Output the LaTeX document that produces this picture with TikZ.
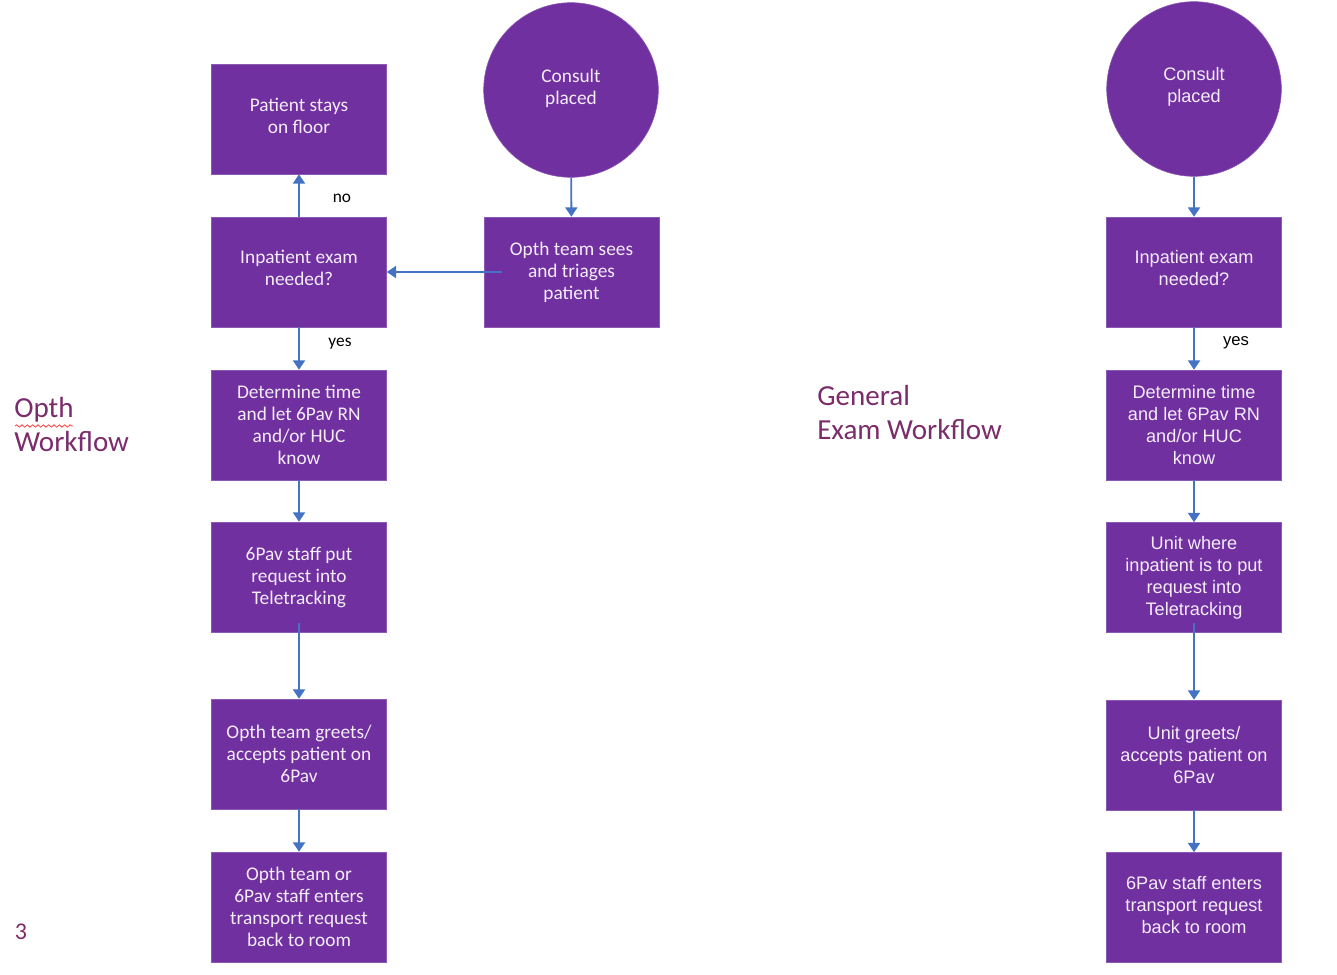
\documentclass[tikz,border=0pt]{standalone}
\usepackage{fontspec}
\setmainfont{Carlito}
\newfontfamily\calfont{Carlito}
\newfontfamily\arifont{Liberation Sans}
\usetikzlibrary{arrows.meta,decorations.pathmorphing}
\definecolor{boxpurple}{HTML}{7030A0}
\definecolor{arrowblue}{HTML}{4472C4}
\definecolor{titlepurple}{HTML}{7B2C6B}
\definecolor{boxtext}{HTML}{F4ECF8}
\tikzset{
  box/.style={rectangle, fill=boxpurple, draw=boxpurple!80!white, line width=0.4pt, minimum width=131.25pt, minimum height=82.5pt, inner sep=0pt, align=center, text=boxtext},
  lbox/.style={box, font=\calfont\fontsize{14.5}{16.5}\selectfont},
  rbox/.style={box, font=\arifont\fontsize{13.6}{16.5}\selectfont},
  circ/.style={circle, fill=boxpurple, draw=boxpurple!80!white, line width=0.4pt, minimum size=131pt, inner sep=0pt, align=center, text=boxtext},
  conn/.style={draw=arrowblue, line width=1.4pt, -{Triangle[width=9pt,length=7pt]}},
  lab/.style={text=black, inner sep=0pt},
  title/.style={text=titlepurple, align=left, anchor=north west, inner sep=0pt, font=\calfont\fontsize{21.8}{25.8}\selectfont}
}
\begin{document}
\begin{tikzpicture}[x=0.75pt,y=-0.75pt]
\useasboundingbox (0,0) rectangle (1337,974);
% Left workflow
\node[lbox] (stay) at (299,119) {Patient stays\\on floor\\[-11pt]};
\node[lbox] (inp) at (299,272) {Inpatient exam\\needed?\\[-10pt]};
\node[lbox] (det) at (299,425) {Determine time\\and let 6Pav RN\\and/or HUC\\know};
\node[lbox] (put) at (299,577) {6Pav staff put\\request into\\Teletracking};
\node[lbox] (greet) at (299,754) {Opth team greets/\\accepts patient on\\6Pav};
\node[lbox] (trans) at (299,907) {Opth team or\\6Pav staff enters\\transport request\\back to room};
\node[circ, font=\calfont\fontsize{14.5}{16.5}\selectfont] (cons) at (571,90) {Consult\\placed\\[-12pt]};
\node[lbox] (tri) at (571.5,272) {Opth team sees\\and triages\\patient};
\draw[conn] (cons) -- (tri);
\draw[conn] ([xshift=14pt]tri.west) -- (inp.east);
\draw[conn] (inp) -- (stay);
\draw[conn] (inp) -- (det);
\draw[conn] (det) -- (put);
\draw[conn] ([yshift=7pt]put.south) -- (greet.north);
\draw[conn] (greet) -- (trans);
\node[lab, font=\calfont\fontsize{13}{15}\selectfont] (no) at (342,198) {no};
\node[lab, font=\calfont\fontsize{13}{15}\selectfont] (yes1) at (340,344) {yes};
% Titles
\node[title] (t1) at (14,397) {Opth\\Workflow};
\draw[red!75!white, line width=0.6pt, decorate, decoration={snake, amplitude=0.9pt, segment length=4pt}] (15,426) -- (73,426);
\node[title] (t2) at (817,385) {General\\Exam Workflow};
\node[text=titlepurple, inner sep=0pt, font=\calfont\fontsize{18}{20}\selectfont] (num) at (21,932) {3};
% Right workflow
\node[circ, font=\arifont\fontsize{13.6}{16.5}\selectfont] (cons2) at (1194,89) {Consult\\placed\\[-10pt]};
\node[rbox] (inp2) at (1194,272) {Inpatient exam\\needed?\\[-10pt]};
\node[rbox] (det2) at (1194,425) {Determine time\\and let 6Pav RN\\and/or HUC\\know};
\node[rbox] (put2) at (1194,577.5) {Unit where\\inpatient is to put\\request into\\Teletracking};
\node[rbox] (greet2) at (1194,755) {Unit greets/\\accepts patient on\\6Pav};
\node[rbox] (trans2) at (1194,907.5) {6Pav staff enters\\transport request\\back to room\\[-12pt]};
\draw[conn] (cons2) -- (inp2);
\draw[conn] (inp2) -- (det2);
\draw[conn] (det2) -- (put2);
\draw[conn] ([yshift=7pt]put2.south) -- (greet2.north);
\draw[conn] (greet2) -- (trans2);
\node[lab, font=\arifont\fontsize{12.5}{14}\selectfont] (yes2) at (1236,343) {yes};
\end{tikzpicture}
\end{document}
